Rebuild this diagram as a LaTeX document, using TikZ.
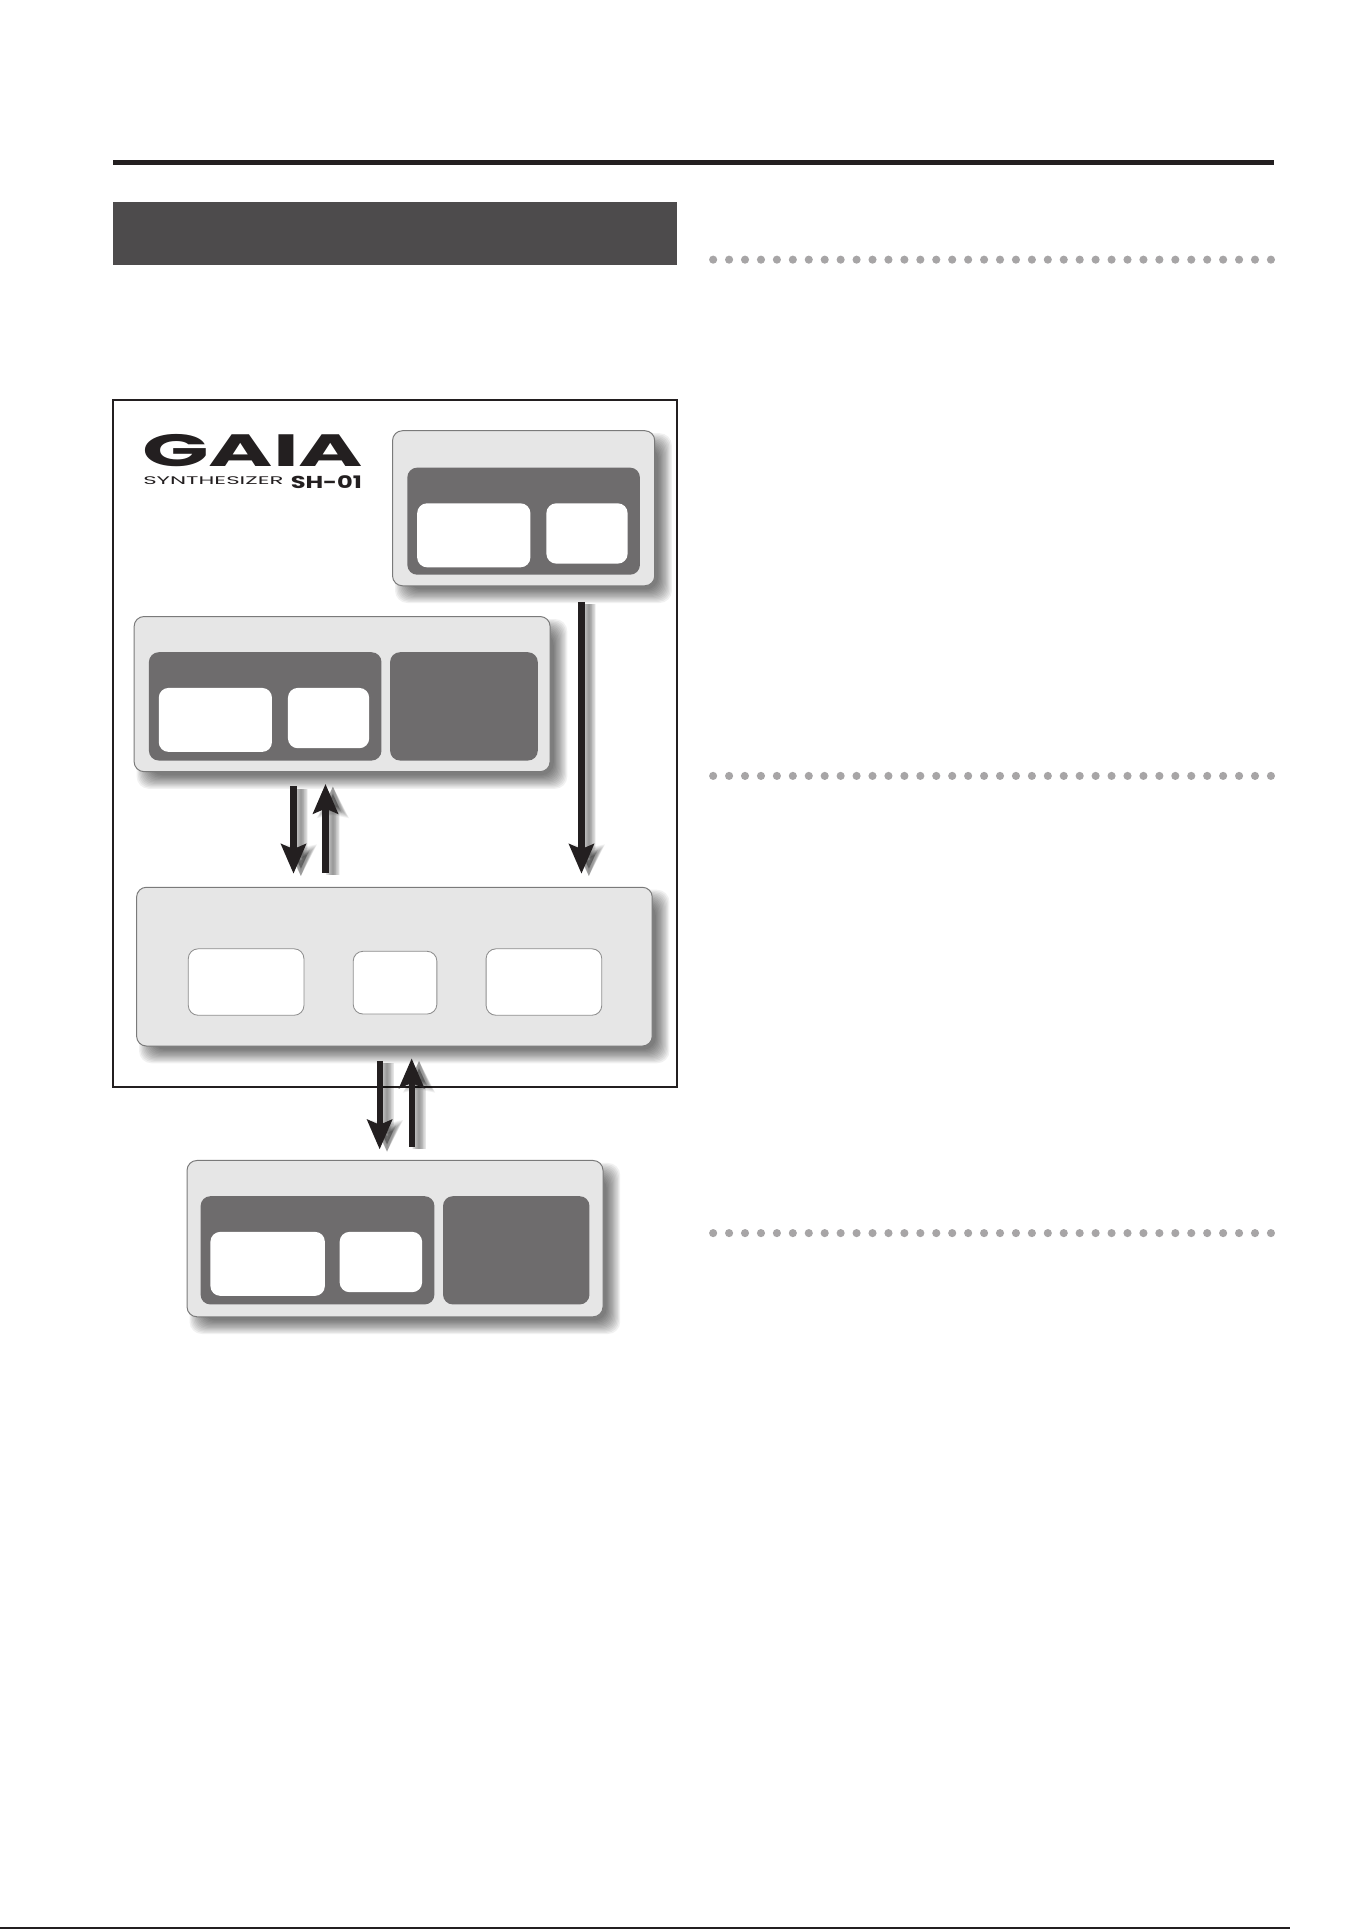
\documentclass[tikz,border=0pt]{standalone}
\usepackage{fontspec}
\setmainfont{Poppins}
\usetikzlibrary{arrows.meta}
\definecolor{inkblack}{HTML}{231F20}
\definecolor{banner}{HTML}{4D4B4C}
\definecolor{panelgrey}{HTML}{E6E6E6}
\definecolor{darkgrey}{HTML}{6E6C6D}
\definecolor{edgegrey}{HTML}{7A7A7A}
\definecolor{dotgrey}{HTML}{A7A5A6}
\tikzset{
  x=1pt,y=-1pt,
  panel/.style={draw=edgegrey,line width=.8pt,fill=panelgrey,rounded corners=8pt},
  darkpanel/.style={fill=darkgrey,rounded corners=8pt},
  whitepanel/.style={fill=white,rounded corners=8pt},
  whiteedged/.style={draw=edgegrey!85,line width=.7pt,fill=white,rounded corners=8pt},
  flow/.style={draw=inkblack,line width=5pt,-{Stealth[length=24pt,width=20pt,inset=4pt]}},
  rdot/.style={circle,fill=dotgrey,inner sep=0pt,minimum size=6.6pt},
}
% name, style, x1, y1, x2, y2
\newcommand\bx[6]{\node[#2,inner sep=0pt,minimum width={(#5-#3)*1pt},minimum height={(#6-#4)*1pt}] (#1) at ({(#3+#5)/2},{(#4+#6)/2}) {};}
% soft shadow behind a box
\newcommand\softshadow[4]{%
  \foreach \g in {-5,-4,...,6}{%
    \fill[black,opacity=.055,rounded corners=10pt] ({#1+8-\g},{#2+8-\g}) rectangle ({#3+8+\g},{#4+8+\g});}}
% long arrow with shadow: name, x, y-from, y-to
\newcommand\flowarrow[4]{%
  \coordinate (#1s) at (#2,#3); \coordinate (#1e) at (#2,#4);
  \foreach \w in {1,2,...,9}{%
    \pgfmathsetmacro\tw{12+1.4*\w}\pgfmathsetmacro\tl{18+.8*\w}\pgfmathsetmacro\lw{1+1.2*\w}%
    \draw[draw=black,opacity=.05,line width=\lw pt,-{Stealth[length=\tl pt,width=\tw pt,inset=2pt]}] ([shift={(6,2)}]#1s) -- ([shift={(6,2)}]#1e);}
  \draw[flow] (#1s) -- (#1e);}
\newcommand\rowofdots[2]{%
  \foreach \i in {0,...,35}{\node[rdot] (#1\i) at ({579.5+12.95*\i},#2) {};}}
\begin{document}
\begin{tikzpicture}
\useasboundingbox (0,0) rectangle (1110,1567.5);
\fill[white] (0,0) rectangle (1110,1567.5);
% page furniture
\coordinate (ruleL) at (92,132); \coordinate (ruleR) at (1035.5,132);
\draw[inkblack,line width=3.6pt] (ruleL) -- (ruleR);
\node[fill=banner,inner sep=0pt,minimum width=458.5pt,minimum height=51pt] (title) at (321,189.5) {};
\rowofdots{da}{211}
\rowofdots{db}{630.5}
\rowofdots{dc}{1002}
\coordinate (footL) at (0,1567); \coordinate (footR) at (1048,1567);
\draw[inkblack,line width=1.6pt] (footL) -- (footR);
% frame
\node[draw=inkblack,line width=1.6pt,fill=white,inner sep=0pt,minimum width=458pt,minimum height=558pt] (frame) at (321,604) {};
% logo
\node[anchor=west,inner sep=0pt,inkblack,font=\bfseries\fontsize{35}{35}\selectfont,xscale=2.03,yscale=1.05] (gaia) at (115,366) {GAIA};
\node[anchor=west,inner sep=0pt,inkblack,font=\fontsize{9}{9}\selectfont,xscale=2.07] (synth) at (116,390.5) {SYNTHESIZER};
\node[anchor=west,inner sep=0pt,inkblack,font=\bfseries\fontsize{14}{14}\selectfont,xscale=1.4] (sh) at (236,392) {SH-01};
% top right
\softshadow{319}{350}{532}{476}
\bx{A}{panel}{319}{350}{532}{476}
\bx{Ad}{darkpanel}{331}{380}{520}{467}
\bx{Aw}{whitepanel}{339}{409}{431}{461}
\bx{Ax}{whitepanel}{444}{409}{510}{458}
% left
\softshadow{109}{501}{447}{627}
\bx{B}{panel}{109}{501}{447}{627}
\bx{Bd}{darkpanel}{121}{530}{310}{618}
\bx{Be}{darkpanel}{317}{530}{437}{618}
\bx{Bw}{whitepanel}{129}{559}{221}{611}
\bx{Bx}{whitepanel}{234}{559}{300}{608}
% middle
\softshadow{111}{721}{530}{850}
\bx{C}{panel}{111}{721}{530}{850}
\bx{Cw}{whiteedged}{153}{771}{247}{825}
\bx{Cx}{whiteedged}{287}{773}{355}{824}
\bx{Cy}{whiteedged}{395}{771}{489}{825}
% bottom
\softshadow{152}{943}{490}{1070}
\bx{D}{panel}{152}{943}{490}{1070}
\bx{Dd}{darkpanel}{163}{972}{353}{1060}
\bx{De}{darkpanel}{360}{972}{479}{1060}
\bx{Dw}{whitepanel}{171}{1001}{264}{1053}
\bx{Dx}{whitepanel}{276}{1001}{343}{1050}
% arrows
\flowarrow{p}{238.5}{639}{710}
\flowarrow{q}{264.5}{709}{637}
\flowarrow{r}{472.5}{489}{710}
\flowarrow{s}{308.5}{862}{934}
\flowarrow{t}{334.5}{932}{860}
\end{tikzpicture}
\end{document}
